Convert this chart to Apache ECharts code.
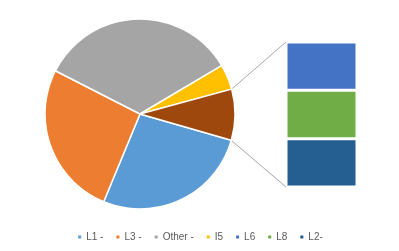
<!DOCTYPE html>
<html><head><meta charset="utf-8">
<script src="https://cdn.jsdelivr.net/npm/echarts@6/dist/echarts.min.js"></script>
<style>html,body{margin:0;padding:0;background:#fff}#c{width:399px;height:251px}</style>
</head><body><div id="c"></div>
<script>
// Pie slices (clockwise from the linked slice)
var pieNames = ['L1 -', 'L3 -', 'Other -', 'I5'];
var pieValues = [26.8, 26.3, 34.0, 4.3];
var pieColors = ['#5B9BD5', '#ED7D31', '#A5A5A5', '#FFC000'];
// Bar (secondary) breakdown, top to bottom
var barNames = ['L6', 'L8', 'L2-'];
var barValues = [2.9, 2.9, 2.9];
var barColors = ['#4472C4', '#70AD47', '#255E91'];
var linkedColor = '#9E480E';
var legendOrder = ['L1 -', 'L3 -', 'Other -', 'I5', 'L6', 'L8', 'L2-'];

var barTotal = barValues.reduce(function (a, b) { return a + b; }, 0);
var pieTotal = pieValues.reduce(function (a, b) { return a + b; }, 0) + barTotal;

var pieData = pieNames.map(function (n, i) {
  return { name: n, value: pieValues[i], itemStyle: { color: pieColors[i] } };
});
pieData.push({ name: 'Others', value: barTotal, itemStyle: { color: linkedColor } });

var pieCenter = [140, 114], pieR = 95;
var startAngle = -16.1;

var barSeries = [];
for (var i = barNames.length - 1; i >= 0; i--) {
  barSeries.push({
    type: 'bar', name: barNames[i], stack: 's', barWidth: '100%',
    data: [barValues[i]],
    itemStyle: { color: barColors[i], borderColor: '#fff', borderWidth: 1.5 },
    silent: true
  });
}

var chart = echarts.init(document.getElementById('c'), null, { renderer: 'canvas' });
var gridL = 286, gridT = 42, gridW = 71, gridH = 145;
chart.setOption({
  animation: false,
  legend: {
    data: legendOrder.map(function (n) { return { name: n, icon: 'rect' }; }),
    bottom: 4, left: 'center',
    itemWidth: 5, itemHeight: 5, itemGap: 11,
    textStyle: { fontFamily: 'Liberation Sans', fontSize: 10, color: '#595959', padding: [0, 0, 0, -1] },
    selectedMode: false
  },
  grid: { left: gridL, top: gridT, width: gridW, height: gridH },
  xAxis: { type: 'category', data: [''], show: false },
  yAxis: { type: 'value', min: 0, max: barTotal, show: false },
  series: [{
    type: 'pie', center: pieCenter, radius: pieR, startAngle: startAngle, clockwise: true,
    label: { show: false }, labelLine: { show: false }, silent: true,
    itemStyle: { borderColor: '#fff', borderWidth: 1.5 },
    data: pieData
  }].concat(barSeries)
});

var a1 = startAngle * Math.PI / 180;
var a0 = (startAngle + barTotal / pieTotal * 360) * Math.PI / 180;
var pTop = [pieCenter[0] + pieR * Math.cos(a0), pieCenter[1] - pieR * Math.sin(a0)];
var pBot = [pieCenter[0] + pieR * Math.cos(a1), pieCenter[1] - pieR * Math.sin(a1)];
var yTop = chart.convertToPixel({ yAxisIndex: 0 }, barTotal);
var yBot = chart.convertToPixel({ yAxisIndex: 0 }, 0);
chart.setOption({
  graphic: [
    { type: 'line', shape: { x1: pTop[0], y1: pTop[1], x2: gridL, y2: yTop }, style: { stroke: '#A6A6A6', lineWidth: 1 }, silent: true },
    { type: 'line', shape: { x1: pBot[0], y1: pBot[1], x2: gridL, y2: yBot }, style: { stroke: '#A6A6A6', lineWidth: 1 }, silent: true }
  ]
});
</script></body></html>
